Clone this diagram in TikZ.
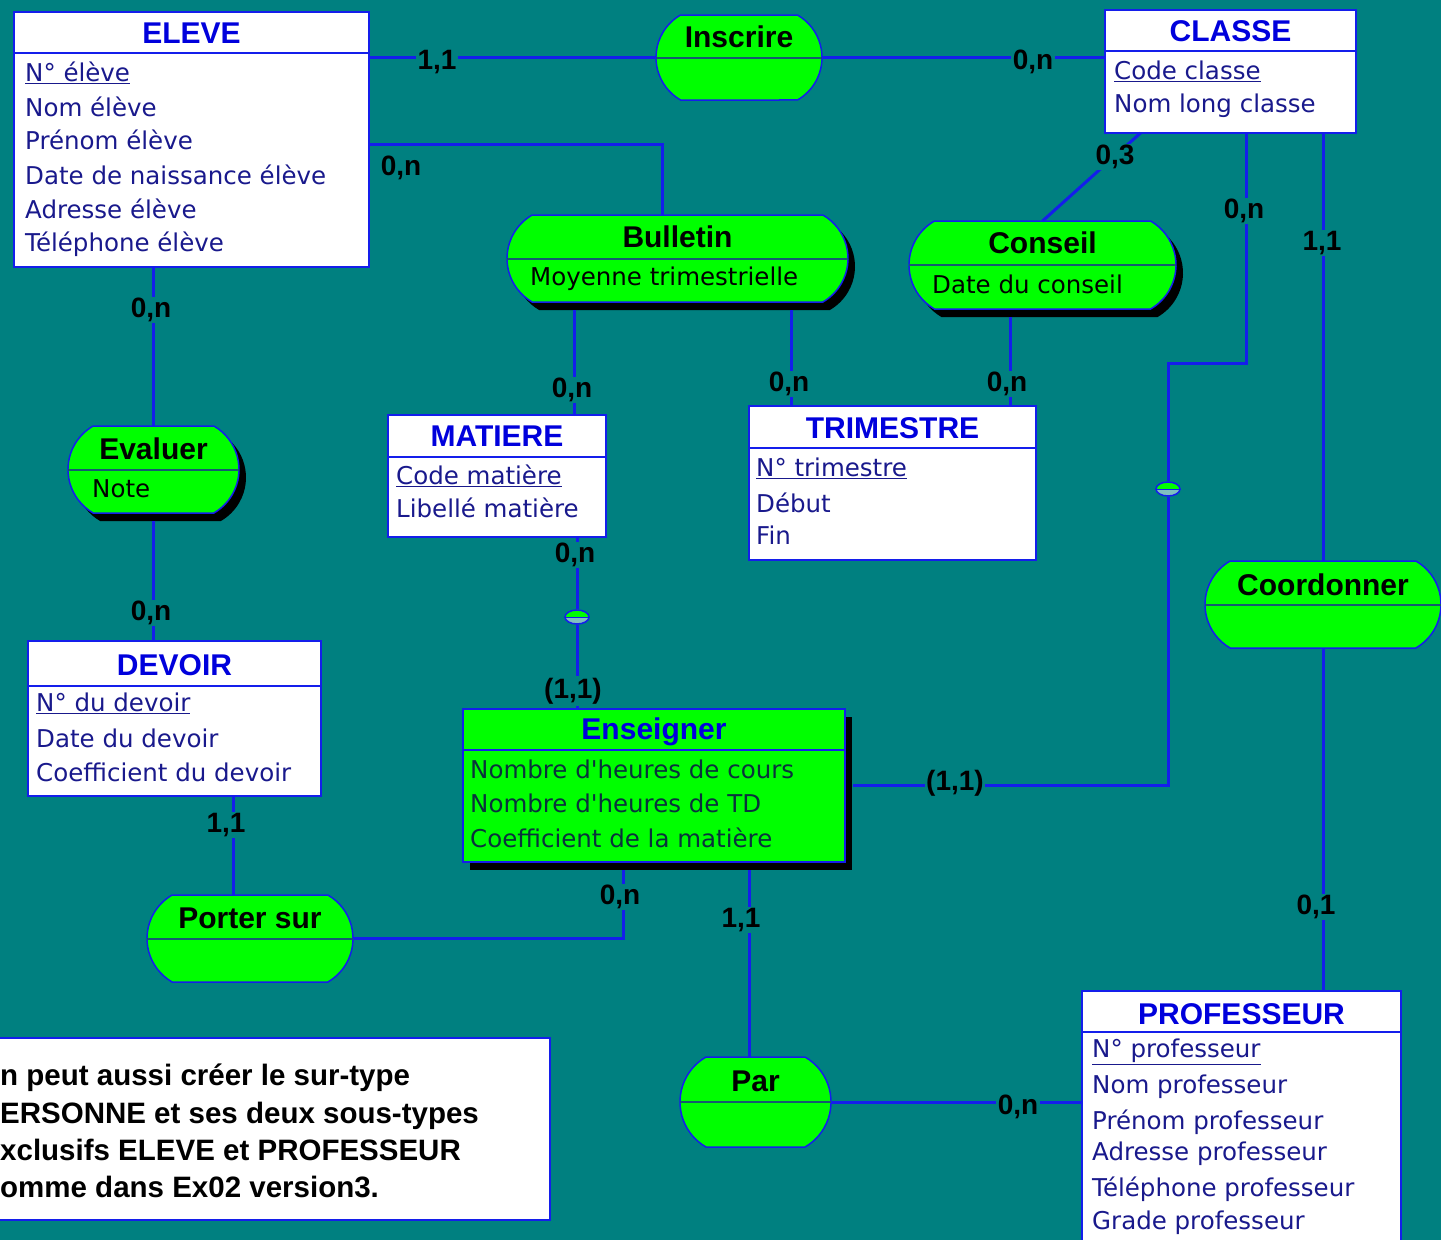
\documentclass[tikz,border=0pt]{standalone}
\usepackage{fontspec}
\setmainfont{DejaVu Sans}
\newfontfamily\labfont{Liberation Sans}
\usetikzlibrary{shapes.misc,shapes.geometric,shadows}
\definecolor{fond}{RGB}{0,128,128}
\definecolor{vert}{RGB}{0,255,0}
\definecolor{trait}{RGB}{20,30,235}
\definecolor{bleutitre}{RGB}{0,0,220}
\definecolor{attrib}{RGB}{25,25,140}
\definecolor{sombre}{RGB}{10,50,60}
\definecolor{sepvert}{RGB}{20,90,110}
\tikzset{
  ent/.style={draw=trait, line width=2pt, fill=white, inner sep=0pt, outer sep=0pt},
  asso/.style={rounded rectangle, rounded rectangle arc length=120, draw=trait, line width=1.5pt, fill=vert, inner sep=0pt, outer sep=0pt},
  ombre/.style={drop shadow={shadow xshift=7pt, shadow yshift=-8pt, fill=black, opacity=1}},
  titre/.style={font=\labfont\bfseries\fontsize{30}{34}\selectfont, text=bleutitre, inner sep=0pt},
  nomasso/.style={font=\labfont\bfseries\fontsize{30}{34}\selectfont, text=black, inner sep=0pt},
  attr/.style={anchor=west, font=\fontsize{24.5}{27}\selectfont, text=attrib, inner sep=0pt},
  attrasso/.style={attr, text=black},
  separ/.style={draw=trait, line width=2pt},
  sepasso/.style={draw=sepvert, line width=2pt},
  lien/.style={draw=trait, line width=3pt},
  card/.style={font=\labfont\bfseries\fontsize{28}{30}\selectfont, fill=fond, inner sep=1.5pt},
  cstr/.style={ellipse, draw=trait, line width=1.5pt, fill=vert, minimum width=24pt, minimum height=14pt, inner sep=0pt,
    path picture={\fill[fond!50!white] (path picture bounding box.west) rectangle (path picture bounding box.south east);}}
}
\begin{document}
\begin{tikzpicture}[x=1pt,y=-1pt]
  \useasboundingbox (0,0) rectangle (1441,1240);
  \clip (0,0) rectangle (1441,1240);
  \fill[fond] (0,0) rectangle (1441,1240);

  % entites
  \node[ent, minimum width=355pt, minimum height=255pt] (eleve) at (191.5,139.5) {};
  \node[titre] (eleveT) at ([yshift=-21pt]eleve.north) {ELEVE};
  \draw[separ] ([yshift=-41pt]eleve.north west) -- ([yshift=-41pt]eleve.north east);
  \node[attr] (eleve1) at (25,73) {\underline{N° élève}};
  \node[attr] (eleve2) at (25,107) {Nom élève};
  \node[attr] (eleve3) at (25,140) {Prénom élève};
  \node[attr] (eleve4) at (25,175) {Date de naissance élève};
  \node[attr] (eleve5) at (25,209) {Adresse élève};
  \node[attr] (eleve6) at (25,244) {Téléphone élève};

  \node[ent, minimum width=251pt, minimum height=123pt] (classe) at (1230.5,71.5) {};
  \node[titre] (classeT) at ([yshift=-21pt]classe.north) {CLASSE};
  \draw[separ] ([yshift=-41pt]classe.north west) -- ([yshift=-41pt]classe.north east);
  \node[attr] (classe1) at (1114,71) {\underline{Code classe}};
  \node[attr] (classe2) at (1114,106) {Nom long classe};

  \node[ent, minimum width=218pt, minimum height=122pt] (matiere) at (497,476) {};
  \node[titre] (matiereT) at ([yshift=-21pt]matiere.north) {MATIERE};
  \draw[separ] ([yshift=-42pt]matiere.north west) -- ([yshift=-42pt]matiere.north east);
  \node[attr] (matiere1) at (396,476) {\underline{Code matière}};
  \node[attr] (matiere2) at (396,508) {Libellé matière};

  \node[ent, minimum width=287pt, minimum height=154pt] (trimestre) at (892.5,483) {};
  \node[titre] (trimestreT) at ([yshift=-22pt]trimestre.north) {TRIMESTRE};
  \draw[separ] ([yshift=-42pt]trimestre.north west) -- ([yshift=-42pt]trimestre.north east);
  \node[attr] (trimestre1) at (756,468) {\underline{N° trimestre}};
  \node[attr] (trimestre2) at (756,503) {Début};
  \node[attr] (trimestre3) at (756,535) {Fin};

  \node[ent, minimum width=293pt, minimum height=155pt] (devoir) at (174.5,718.5) {};
  \node[titre] (devoirT) at ([yshift=-24pt]devoir.north) {DEVOIR};
  \draw[separ] ([yshift=-45pt]devoir.north west) -- ([yshift=-45pt]devoir.north east);
  \node[attr] (devoir1) at (36,703) {\underline{N° du devoir}};
  \node[attr] (devoir2) at (36,738) {Date du devoir};
  \node[attr] (devoir3) at (36,772) {Coefficient du devoir};

  \node[ent, minimum width=319pt, minimum height=269pt] (prof) at (1241.5,1125.5) {};
  \node[titre] (profT) at ([yshift=-23pt]prof.north) {PROFESSEUR};
  \draw[separ] ([yshift=-41pt]prof.north west) -- ([yshift=-41pt]prof.north east);
  \node[attr] (prof1) at (1092,1052) {\underline{N° professeur}};
  \node[attr] (prof2) at (1092,1087) {Nom professeur};
  \node[attr] (prof3) at (1092,1122) {Prénom professeur};
  \node[attr] (prof4) at (1092,1154) {Adresse professeur};
  \node[attr] (prof5) at (1092,1189) {Téléphone professeur};
  \node[attr] (prof6) at (1092,1223) {Grade professeur};

  \node[ent, fill=vert, ombre, minimum width=382pt, minimum height=153pt] (enseigner) at (654,785.5) {};
  \node[titre] (enseignerT) at ([yshift=-23pt]enseigner.north) {Enseigner};
  \draw[separ] ([yshift=-41pt]enseigner.north west) -- ([yshift=-41pt]enseigner.north east);
  \node[attr, text=sombre] (enseigner1) at (470,769) {Nombre d\textquotesingle heures de cours};
  \node[attr, text=sombre] (enseigner2) at (470,803) {Nombre d\textquotesingle heures de TD};
  \node[attr, text=sombre] (enseigner3) at (470,838) {Coefficient de la matière};

  % associations
  \node[asso, minimum width=166pt, minimum height=85pt] (inscrire) at (739,57.5) {};
  \draw[sepasso] (inscrire.west) -- (inscrire.east);
  \node[nomasso] (inscrireT) at ([yshift=21pt]inscrire.center) {Inscrire};

  \node[asso, ombre, minimum width=341pt, minimum height=87pt] (bulletin) at (677.5,258.5) {};
  \draw[sepasso] (bulletin.west) -- (bulletin.east);
  \node[nomasso] (bulletinT) at ([yshift=22pt]bulletin.center) {Bulletin};
  \node[attrasso] (bulletin1) at (530,279) {Moyenne trimestrielle};

  \node[asso, ombre, minimum width=267pt, minimum height=88pt] (conseil) at (1042.5,265) {};
  \draw[sepasso] (conseil.west) -- (conseil.east);
  \node[nomasso] (conseilT) at ([yshift=22pt]conseil.center) {Conseil};
  \node[attrasso] (conseil1) at (932,284) {Date du conseil};

  \node[asso, ombre, minimum width=171pt, minimum height=87pt] (evaluer) at (153.5,469.5) {};
  \draw[sepasso] (evaluer.west) -- (evaluer.east);
  \node[nomasso] (evaluerT) at ([yshift=21pt]evaluer.center) {Evaluer};
  \node[attrasso] (evaluer1) at (92,489) {Note};

  \node[asso, minimum width=236pt, minimum height=87pt] (coord) at (1323,604.5) {};
  \draw[sepasso] (coord.west) -- (coord.east);
  \node[nomasso] (coordT) at ([yshift=20pt]coord.center) {Coordonner};

  \node[asso, minimum width=206pt, minimum height=87pt] (porter) at (250,938.5) {};
  \draw[sepasso] (porter.west) -- (porter.east);
  \node[nomasso] (porterT) at ([yshift=20pt]porter.center) {Porter sur};

  \node[asso, minimum width=151pt, minimum height=90pt] (par) at (755.5,1102) {};
  \draw[sepasso] (par.west) -- (par.east);
  \node[nomasso] (parT) at ([yshift=21pt]par.center) {Par};

  % contraintes
  \node[cstr] (cstrA) at (577,617) {};
  \draw[trait, line width=1pt] (cstrA.west) -- (cstrA.east);
  \node[cstr] (cstrB) at (1168,489) {};
  \draw[trait, line width=1pt] (cstrB.west) -- (cstrB.east);

  % liens
  \coordinate (bulB) at ([yshift=-8pt]bulletin.south);
  \coordinate (consB) at ([yshift=-8pt]conseil.south);
  \coordinate (matB) at ([xshift=77pt]matiere.north);
  \coordinate (trimA) at ([xshift=-101.5pt]trimestre.north);
  \coordinate (trimB) at ([xshift=117.5pt]trimestre.north);
  \coordinate (devB) at ([xshift=58.5pt]devoir.south);
  \coordinate (ensA) at ([xshift=-31pt,yshift=-8pt]enseigner.south);
  \coordinate (ensB) at ([xshift=95pt,yshift=-8pt]enseigner.south);
  \coordinate (evalB) at ([yshift=-8pt]evaluer.south);

  \draw[lien] (inscrire.west) -- (inscrire.west -| eleve.east);
  \draw[lien] (inscrire.east) -- (inscrire.east -| classe.west);
  \draw[lien] ([yshift=-5pt]eleve.east) -| ([xshift=-15pt]bulletin.north);
  \draw[lien] ([xshift=-90pt]classe.south) -- (conseil.north);
  \draw[lien] ([xshift=15.5pt]classe.south) -- ++(0,230) -| (cstrB.north);
  \draw[lien] (cstrB.south) |- ([xshift=8pt]enseigner.east);
  \draw[lien] (coord.north) -- (coord.north |- classe.south);
  \draw[lien] (coord.south) -- (coord.south |- prof.north);
  \draw[lien] (evaluer.north) -- (evaluer.north |- eleve.south);
  \draw[lien] (evalB) -- (evalB |- devoir.north);
  \draw[lien] (matB) -- (matB |- bulB);
  \draw[lien] (trimA) -- (trimA |- bulB);
  \draw[lien] (trimB) -- (trimB |- consB);
  \draw[lien] (cstrA.north) -- (cstrA.north |- matiere.south);
  \draw[lien] (cstrA.south) -- (cstrA.south |- enseigner.north);
  \draw[lien] (devB) -- (devB |- porter.north);
  \draw[lien] (porter.east) -| (ensA);
  \draw[lien] (ensB) -- (ensB |- par.north);
  \draw[lien] (par.east) -- (par.east -| prof.west);

  % cardinalites
  \node[card] (k1) at (437,62) {1,1};
  \node[card] (k2) at (1033,62) {0,n};
  \node[card] (k3) at (401,168) {0,n};
  \node[card] (k4) at (1115,157) {0,3};
  \node[card] (k5) at (1244,211) {0,n};
  \node[card] (k6) at (955,783) {(1,1)};
  \node[card] (k7) at (1322,243) {1,1};
  \node[card] (k8) at (1316,907) {0,1};
  \node[card] (k9) at (151,310) {0,n};
  \node[card] (k10) at (151,613) {0,n};
  \node[card] (k11) at (572,390) {0,n};
  \node[card] (k12) at (789,384) {0,n};
  \node[card] (k13) at (1007,384) {0,n};
  \node[card] (k14) at (575,555) {0,n};
  \node[card] (k15) at (573,691) {(1,1)};
  \node[card] (k16) at (226,825) {1,1};
  \node[card] (k17) at (620,897) {0,n};
  \node[card] (k18) at (741,920) {1,1};
  \node[card] (k19) at (1018,1107) {0,n};

  % commentaire
  \node[ent, minimum width=560pt, minimum height=182pt] (note) at (270,1129) {};
  \node[anchor=west, align=left, inner sep=0pt, font=\labfont\bfseries\fontsize{29.5}{37.3}\selectfont] (noteT) at (0,1131)
    {n peut aussi créer le sur-type\\ERSONNE et ses deux sous-types\\xclusifs ELEVE et PROFESSEUR\\omme dans Ex02 version3.};
\end{tikzpicture}
\end{document}
